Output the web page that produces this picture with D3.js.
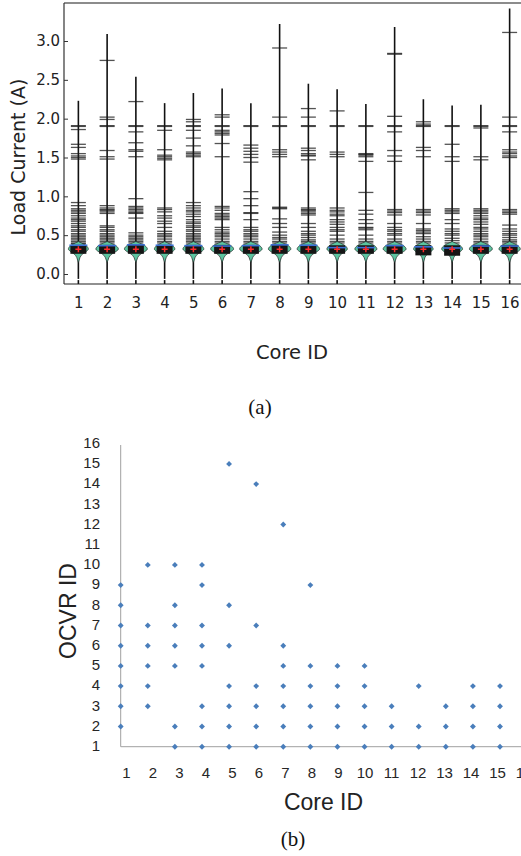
<!DOCTYPE html>
<html>
<head>
<meta charset="utf-8">
<script src="https://cdn.jsdelivr.net/npm/d3@7"></script>
<style>
  html, body { margin: 0; padding: 0; background: #fff; }
  svg { display: block; }
</style>
</head>
<body>
<svg id="chart" width="521" height="856"></svg>
<script>
// ---------------- Data: panel (a) bean plot ----------------
const cores = [1,2,3,4,5,6,7,8,9,10,11,12,13,14,15,16];
const yTicksA = [0, 0.5, 1.0, 1.5, 2.0, 2.5, 3.0];
const maxCurrent = [2.23,3.09,2.54,2.2,2.33,2.39,2.2,3.22,2.45,2.38,2.19,3.18,2.25,2.17,2.18,3.42];
const meanCurrent = [0.32,0.32,0.32,0.32,0.32,0.32,0.32,0.32,0.32,0.32,0.32,0.32,0.32,0.32,0.32,0.32];
const medianCurrent = [0.37,0.365,0.375,0.37,0.365,0.36,0.365,0.375,0.37,0.34,0.34,0.365,0.35,0.335,0.36,0.36];
const q1Current = [0.26,0.26,0.26,0.26,0.26,0.26,0.26,0.26,0.26,0.26,0.26,0.26,0.24,0.235,0.26,0.26];
const q3Current = [0.375,0.375,0.38,0.375,0.375,0.375,0.375,0.38,0.375,0.37,0.37,0.375,0.37,0.37,0.375,0.375];
const beanPeak = [0.87,0.98,1.0,0.89,0.91,1.0,0.98,0.98,0.98,0.89,0.96,1.0,0.85,0.91,1.0,0.93];
const densityGrid = [0.15,0.18,0.21,0.24,0.26,0.28,0.30,0.32,0.34,0.36,0.38,0.40,0.41,0.42];
const densityShape = [0,0.08,0.15,0.28,0.45,0.68,0.88,1.0,0.95,0.82,0.6,0.3,0.12,0];
const beanLines = [
  [1.91,1.9,1.86,1.67,1.63,1.55,1.52,1.5,1.48,0.92,0.88,0.84,0.82,0.8,0.78,0.75,0.72,0.7,0.68,0.65,0.62,0.6,0.57,0.55,0.52,0.5,0.48,0.46,0.44,0.42,0.4,0.39],
  [2.75,2.02,1.99,1.91,1.9,1.59,1.51,1.48,0.88,0.85,0.83,0.82,0.8,0.78,0.62,0.6,0.57,0.55,0.52,0.5,0.48,0.46,0.44,0.42,0.4],
  [2.22,1.91,1.9,1.83,1.69,1.6,1.58,1.51,0.97,0.87,0.85,0.83,0.81,0.79,0.78,0.72,0.53,0.5,0.48,0.46,0.44,0.42,0.4],
  [1.91,1.9,1.85,1.6,1.53,1.51,1.49,1.47,0.85,0.83,0.8,0.75,0.72,0.68,0.65,0.6,0.55,0.52,0.5,0.48,0.45,0.42,0.4],
  [1.99,1.96,1.91,1.9,1.85,1.75,1.65,1.57,1.55,1.53,1.51,0.92,0.88,0.85,0.82,0.8,0.77,0.74,0.7,0.67,0.65,0.62,0.6,0.57,0.55,0.52,0.5,0.48,0.46,0.44,0.42,0.4],
  [2.05,2.02,1.91,1.9,1.85,1.83,1.81,1.79,1.68,1.51,0.87,0.85,0.82,0.78,0.76,0.74,0.72,0.7,0.6,0.57,0.54,0.52,0.5,0.48,0.45,0.42,0.4],
  [1.91,1.9,1.66,1.62,1.58,1.54,1.5,1.44,1.06,0.97,0.88,0.79,0.78,0.7,0.6,0.57,0.55,0.52,0.5,0.48,0.45,0.42,0.4],
  [2.91,2.02,1.91,1.9,1.6,1.57,1.54,1.51,0.86,0.85,0.84,0.71,0.65,0.6,0.54,0.5,0.47,0.45,0.42,0.4],
  [2.13,2.02,1.91,1.9,1.62,1.59,1.55,1.53,1.52,1.47,0.85,0.83,0.82,0.8,0.78,0.76,0.65,0.6,0.55,0.52,0.5,0.47,0.44,0.42,0.4],
  [2.1,1.91,1.9,1.57,1.54,1.51,0.85,0.82,0.8,0.77,0.75,0.7,0.67,0.64,0.6,0.57,0.55,0.5,0.45,0.42,0.4],
  [1.91,1.9,1.55,1.54,1.53,1.51,1.45,1.05,0.82,0.77,0.7,0.65,0.6,0.59,0.57,0.5,0.45,0.42,0.4],
  [2.84,2.83,2.03,1.91,1.9,1.83,1.59,1.52,1.45,0.83,0.81,0.79,0.76,0.65,0.6,0.57,0.55,0.52,0.5,0.45,0.42,0.4],
  [1.96,1.93,1.91,1.9,1.63,1.59,1.51,0.83,0.81,0.79,0.76,0.65,0.58,0.56,0.54,0.52,0.48,0.45,0.42,0.4],
  [1.91,1.9,1.67,1.51,1.45,0.84,0.82,0.8,0.78,0.7,0.65,0.58,0.55,0.52,0.5,0.46,0.43,0.4],
  [1.91,1.9,1.88,1.51,1.47,0.84,0.82,0.8,0.78,0.75,0.72,0.7,0.67,0.64,0.6,0.58,0.55,0.52,0.5,0.48,0.45,0.42,0.4],
  [3.11,2.02,1.91,1.9,1.83,1.6,1.57,1.55,1.52,1.5,0.83,0.81,0.79,0.77,0.63,0.58,0.55,0.52,0.5,0.47,0.44,0.42,0.4]
];

// ---------------- Data: panel (b) scatter ----------------
const ocvrCore = [
  1,1,1,1,1,1,1,1,
  2,2,2,2,2,2,
  3,3,3,3,3,3,3,
  4,4,4,4,4,4,4,4,
  5,5,5,5,5,5,5,
  6,6,6,6,6,6,
  7,7,7,7,7,7,7,
  8,8,8,8,8,8,
  9,9,9,9,9,
  10,10,10,10,10,
  11,11,11,
  12,12,12,
  13,13,13,
  14,14,14,14,
  15,15,15,15
];
const ocvrId = [
  9,8,7,6,5,4,3,2,
  10,7,6,5,4,3,
  10,8,7,6,5,2,1,
  10,9,7,6,5,3,2,1,
  15,8,6,4,3,2,1,
  14,7,4,3,2,1,
  12,6,5,4,3,2,1,
  9,5,4,3,2,1,
  5,4,3,2,1,
  5,4,3,2,1,
  3,2,1,
  4,2,1,
  3,2,1,
  4,3,2,1,
  4,3,2,1
];
const xTicksB = [1,2,3,4,5,6,7,8,9,10,11,12,13,14,15,16];
const yTicksB = [1,2,3,4,5,6,7,8,9,10,11,12,13,14,15,16];

// ---------------- Drawing ----------------
const svg = d3.select("#chart");
svg.append("rect").attr("width", 521).attr("height", 856).attr("fill", "#fff");

// ===== Panel (a) =====
const gA = svg.append("g");
const xA = d3.scaleLinear().domain([0.5, 16.5]).range([64, 524]);
const yA = d3.scaleLinear().domain([0, 3]).range([274, 41]);
const axisBottomY = 284, axisTopY = 3;

gA.append("line").attr("x1", 64).attr("x2", 521).attr("y1", axisTopY).attr("y2", axisTopY)
  .attr("stroke", "#8c8c8c").attr("stroke-width", 2);

const halfLine = 7.5, maxHalf = 11.5;
const beanArea = d3.area()
  .curve(d3.curveCatmullRom)
  .y(d => yA(d.v));

cores.forEach((c, i) => {
  const cx = xA(c);
  const g = gA.append("g");
  g.append("line").attr("x1", cx).attr("x2", cx)
    .attr("y1", yA(maxCurrent[i])).attr("y2", axisBottomY)
    .attr("stroke", "#111").attr("stroke-width", 1.6);
  g.selectAll("line.bl").data(beanLines[i]).join("line").attr("class", "bl")
    .attr("x1", cx - halfLine).attr("x2", cx + halfLine)
    .attr("y1", d => yA(d)).attr("y2", d => yA(d))
    .attr("stroke", "#1a1a1a").attr("stroke-opacity", 0.75).attr("stroke-width", 1.3);
  const pts = densityGrid.map((v, k) => ({v, w: densityShape[k] * beanPeak[i] * maxHalf}));
  g.append("path").datum(pts)
    .attr("d", beanArea.x0(d => cx - d.w).x1(d => cx + d.w))
    .attr("fill", "#5cc4a0").attr("stroke", "#2f3b36").attr("stroke-width", 0.8);
  g.append("rect")
    .attr("x", cx - 8).attr("width", 16)
    .attr("y", yA(q3Current[i])).attr("height", yA(q1Current[i]) - yA(q3Current[i]))
    .attr("fill", "#151515");
  g.append("line").attr("x1", cx - 9).attr("x2", cx + 9)
    .attr("y1", yA(medianCurrent[i])).attr("y2", yA(medianCurrent[i]))
    .attr("stroke", "#3b6fd6").attr("stroke-width", 1.6);
  const my = yA(meanCurrent[i]);
  g.append("path")
    .attr("d", `M${cx-3},${my}H${cx+3}M${cx},${my-3}V${my+3}`)
    .attr("stroke", "#ff2a2a").attr("stroke-width", 1.5).attr("fill", "none");
  g.append("line").attr("x1", cx - 2).attr("x2", cx + 2)
    .attr("y1", 279.5).attr("y2", 279.5).attr("stroke", "#fff").attr("stroke-width", 1.2);
});

const yAxisA = d3.axisLeft(yA).tickValues(yTicksA).tickFormat(d3.format(".1f"))
  .tickSize(-4).tickPadding(4);
const gy = gA.append("g").attr("transform", "translate(64,0)").call(yAxisA);
gy.select(".domain").remove();
gy.selectAll(".tick line").attr("stroke", "#333").attr("stroke-width", 1);
gy.selectAll("text").attr("font-family", "DejaVu Sans").attr("font-size", 15).attr("fill", "#222");
gA.append("line").attr("x1", 64).attr("x2", 64).attr("y1", axisTopY).attr("y2", axisBottomY)
  .attr("stroke", "#333").attr("stroke-width", 1.2);
const xAxisA = d3.axisBottom(xA).tickValues(cores).tickFormat(d3.format("d")).tickSize(0).tickPadding(13);
const gx = gA.append("g").attr("transform", `translate(0,${axisBottomY})`).call(xAxisA);
gx.select(".domain").remove();
gx.selectAll("text").attr("font-family", "DejaVu Sans").attr("font-size", 15).attr("fill", "#222");
gA.append("line").attr("x1", 64).attr("x2", 521).attr("y1", axisBottomY).attr("y2", axisBottomY)
  .attr("stroke", "#222").attr("stroke-width", 1.2);

gA.append("text").attr("x", 292).attr("y", 359).attr("text-anchor", "middle")
  .attr("font-family", "DejaVu Sans").attr("font-size", 19.5).attr("fill", "#222").text("Core ID");
gA.append("text").attr("transform", "translate(24.5,157) rotate(-90)").attr("text-anchor", "middle")
  .attr("font-family", "DejaVu Sans").attr("font-size", 19).attr("fill", "#222").text("Load Current (A)");
gA.append("text").attr("x", 260).attr("y", 414).attr("text-anchor", "middle")
  .attr("font-family", "Liberation Serif").attr("font-size", 21).attr("fill", "#111").text("(a)");

// ===== Panel (b) =====
const gB = svg.append("g");
const xB = d3.scaleLinear().domain([1, 15]).range([120.7, 500]);
const xLabB = d3.scaleLinear().domain([1, 16]).range([126, 523.5]);
const yB = d3.scaleLinear().domain([1, 16]).range([746.7, 443.7]);

gB.append("line").attr("x1", xB(1)).attr("x2", xB(1)).attr("y1", 445).attr("y2", yB(1))
  .attr("stroke", "#a0a0a0").attr("stroke-width", 1);
gB.append("line").attr("x1", xB(1)).attr("x2", 521).attr("y1", yB(1)).attr("y2", yB(1))
  .attr("stroke", "#a0a0a0").attr("stroke-width", 1);

const yAxisB = d3.axisLeft(yB).tickValues(yTicksB).tickFormat(d3.format("d")).tickSize(0).tickPadding(0);
const gyb = gB.append("g").attr("transform", "translate(100,-1)").call(yAxisB);
gyb.select(".domain").remove();
gyb.selectAll("text").attr("font-family", "Liberation Sans").attr("font-size", 15).attr("fill", "#262626");

const xAxisB = d3.axisBottom(xLabB).tickValues(xTicksB).tickFormat(d3.format("d")).tickSize(0).tickPadding(0);
const gxb = gB.append("g").attr("transform", "translate(0,767)").call(xAxisB);
gxb.select(".domain").remove();
gxb.selectAll("text").attr("font-family", "Liberation Sans").attr("font-size", 15).attr("fill", "#262626");

const diamond = d3.symbol().type(d3.symbolDiamond2).size(22);
gB.selectAll("path.pt").data(ocvrCore.map((c, k) => ({c, o: ocvrId[k]}))).join("path")
  .attr("class", "pt")
  .attr("transform", d => `translate(${xB(d.c)},${yB(d.o)})`)
  .attr("d", diamond)
  .attr("fill", "#4a7ebb");

gB.append("text").attr("x", 323.5).attr("y", 810).attr("text-anchor", "middle")
  .attr("font-family", "Liberation Sans").attr("font-size", 23).attr("fill", "#222").text("Core ID");
gB.append("text").attr("transform", "translate(75.5,611) rotate(-90)").attr("text-anchor", "middle")
  .attr("font-family", "Liberation Sans").attr("font-size", 23).attr("fill", "#222").text("OCVR ID");
gB.append("text").attr("x", 293).attr("y", 846).attr("text-anchor", "middle")
  .attr("font-family", "Liberation Serif").attr("font-size", 21).attr("fill", "#111").text("(b)");
</script>
</body>
</html>
